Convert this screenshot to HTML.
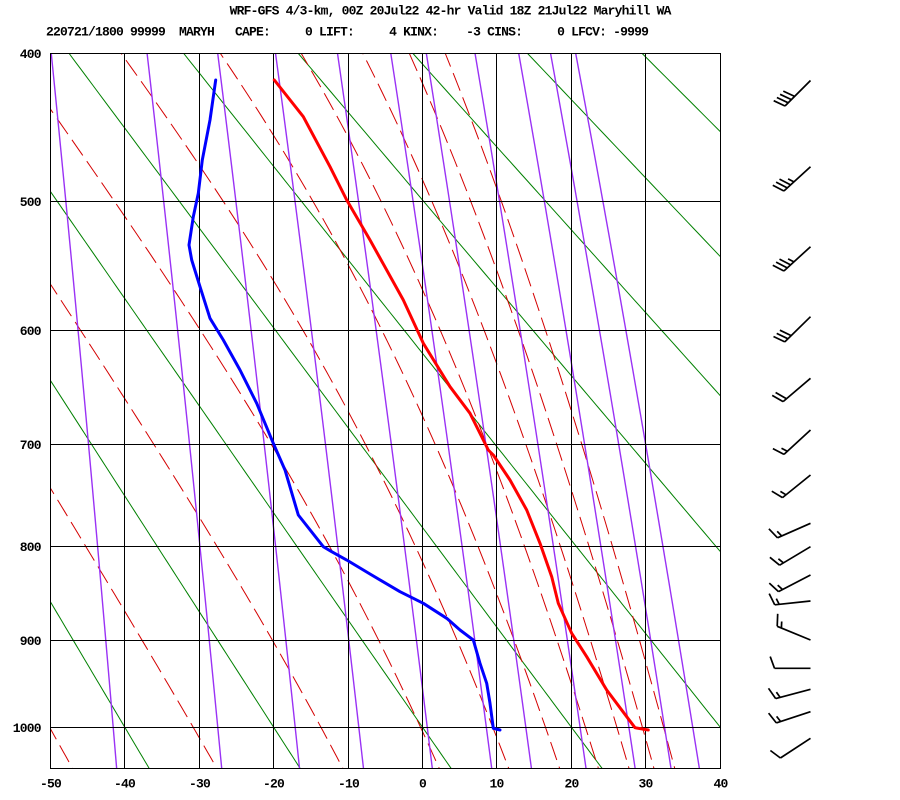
<!DOCTYPE html>
<html><head><meta charset="utf-8">
<style>
html,body{margin:0;padding:0;background:#fff;width:900px;height:800px;overflow:hidden;}
svg{display:block;}
text{font-family:"Liberation Mono","DejaVu Sans Mono",monospace;font-weight:bold;font-size:13px;letter-spacing:-0.8px;fill:#000;white-space:pre;}
</style></head><body>
<svg id="s" width="900" height="800" viewBox="0 0 900 800" xmlns="http://www.w3.org/2000/svg">
<defs><clipPath id="c"><rect x="50" y="53" width="671" height="716"/></clipPath></defs>
<rect width="900" height="800" fill="#fff"/>
<text x="229.6" y="14.5" xml:space="preserve">WRF-GFS 4/3-km, 00Z 20Jul22 42-hr Valid 18Z 21Jul22 Maryhill WA</text>
<text x="46" y="35.5" xml:space="preserve">220721/1800 99999  MARYH   CAPE:     0 LIFT:     4 KINX:    -3 CINS:     0 LFCV: -9999</text>
<g id="bg" clip-path="url(#c)" fill="none"></g>
<g id="grid" stroke="#000" stroke-width="1" shape-rendering="crispEdges"></g>
<g id="labels"></g>
<g id="prof" fill="none" stroke-linejoin="round" stroke-linecap="round">
<polyline stroke="#0000ff" stroke-width="3" points="215.7,80 210,120 202.3,160 198.3,193.3 193.3,216.7 189,245 191.7,260 200,286.7 210,318.3 223.3,340 240,370 256.7,403.3 273.3,443.3 285,470 298.3,515 323.3,546.7 331.7,551.7 346.7,560 370,574 400,591.7 423.3,603.3 446.7,618.3 460,630 473.3,640 480,663.3 486.7,683.3 490,703.3 493.3,728.3 500,730"/>
<polyline stroke="#ff0000" stroke-width="3" points="274.3,80 303.3,116.7 330,166.7 346.7,200 370,240 403.3,300 423.3,343.3 450,386.7 470,413.3 488.3,450 493.3,455 510,480 526.7,510 540,543.3 551.7,576.7 558.3,603.3 571.7,633.3 586.7,656.7 606.7,690 626.7,716.7 635,727.7 648.3,730"/>
</g>
<g id="barbs" stroke="#000" stroke-width="1.7" stroke-linecap="butt" fill="none"></g>
</svg>
<script>
(function(){
var NS="http://www.w3.org/2000/svg";
var K=0.2857,S=406.8,P0K=Math.pow(1000,K);
function X(t){return 50.5+(t+50)*7.4444;}
function Y(p){return 727.5-(P0K-Math.pow(p,K))*S;}
function el(tag,attrs,parent){var e=document.createElementNS(NS,tag);for(var k in attrs)e.setAttribute(k,attrs[k]);parent.appendChild(e);return e;}
function pts(f){var a=[];for(var p=1070;p>=390;p-=5){var t=f(p);if(isFinite(t))a.push(X(t).toFixed(2)+','+Y(p).toFixed(2));}return a.join(' ');}
var bg=document.getElementById('bg');
// dry adiabats
for(var n=-3;n<=7;n++){(function(th){
 el('polyline',{points:pts(function(p){return th*Math.pow(p/1000,K)-273.15;}),stroke:'#008000','stroke-width':'1'},bg);
})(273.15+20*n);}
// moist adiabats (Bolton theta-e)
function thte(T,p){var tc=T-273.15;var e=6.112*Math.exp(17.67*tc/(tc+243.5));var r=622*e/(p-e);
 return T*Math.pow(1000/p,0.2854*(1-0.00028*r))*Math.exp((3.376/T-0.00254)*r*(1+0.00081*r));}
function tmst(te,p){var lo=150,hi=335,m;for(var i=0;i<50;i++){m=(lo+hi)/2;if(thte(m,p)>te)hi=m;else lo=m;}return m-273.15;}
for(var n=0;n<=9;n++){(function(te){
 el('polyline',{points:pts(function(p){return tmst(te,p);}),stroke:'#d40000','stroke-width':'1','stroke-dasharray':'19 7'},bg);
})(223.15+20*n);}
// mixing ratio
var ws=[0.1,0.4,1,2,4,7,10,16,24,32,40];
ws.forEach(function(w){
 el('polyline',{points:pts(function(p){var e=w*p/(622+w);var L=Math.log(e/6.112);return 243.5*L/(17.67-L);}),stroke:'#9a32f5','stroke-width':'1.4'},bg);
});
// grid
var g=document.getElementById('grid');
var xs=[50,124,199,273,348,422,496,571,645,720];
xs.forEach(function(x){el('line',{x1:x+0.5,y1:53,x2:x+0.5,y2:769},g);});
var ys=[53,201,330,444,546,640,727,768];
ys.forEach(function(y){el('line',{x1:50,y1:y+0.5,x2:721,y2:y+0.5},g);});
// labels
var lb=document.getElementById('labels');
var pl=[[400,53],[500,201],[600,330],[700,444],[800,546],[900,640],[1000,727]];
pl.forEach(function(a){var t=el('text',{x:40.8,y:a[1]+5,'text-anchor':'end'},lb);t.textContent=String(a[0]);});
var tl=[-50,-40,-30,-20,-10,0,10,20,30,40];
tl.forEach(function(v,i){var t=el('text',{x:xs[i]+0.5,y:787.5,'text-anchor':'middle'},lb);t.textContent=String(v);});
// barbs: [stationY, endX, endY, full, half]
var bb=[[80.5,786,105,4,0],[166.7,785,190,3,1],[246.7,785,270,3,1],[316.7,785,341.7,3,0],[378.3,785,400,2,0],
[430,783.3,455,1,1],[475,781.7,498.3,1,1],[523.3,780,536.7,1,1],[546.7,781.7,564,1,1],[575,778.3,591.7,1,1],
[601,773.3,605,1,1],[640,778.3,626.7,1,1],[668.3,772.3,668.3,1,0],[689.3,776.7,698.3,1,1],[711.7,775,723.3,1,1],[738.3,780,758.3,1,0]];
var B=document.getElementById('barbs');
bb.forEach(function(b){
 var sx=810.5,sy=b[0];var ang=Math.atan2(b[2]-sy,b[1]-sx);var L=36;
 var ux=Math.cos(ang),uy=Math.sin(ang);
 var ex=sx+ux*L,ey=sy+uy*L;
 var d='M'+sx.toFixed(1)+' '+sy.toFixed(1)+'L'+ex.toFixed(1)+' '+ey.toFixed(1);
 var fa=ang+70*Math.PI/180,fx=Math.cos(fa),fy=Math.sin(fa);
 var i=0;
 for(var k=0;k<b[3];k++,i++){var bx=sx+ux*(L-i*4.5),by=sy+uy*(L-i*4.5);d+='M'+bx.toFixed(1)+' '+by.toFixed(1)+'l'+(fx*12.5).toFixed(1)+' '+(fy*12.5).toFixed(1);}
 for(var k=0;k<b[4];k++,i++){var bx=sx+ux*(L-i*4.5),by=sy+uy*(L-i*4.5);d+='M'+bx.toFixed(1)+' '+by.toFixed(1)+'l'+(fx*6.5).toFixed(1)+' '+(fy*6.5).toFixed(1);}
 el('path',{d:d},B);
});
})();
</script>
</body></html>
